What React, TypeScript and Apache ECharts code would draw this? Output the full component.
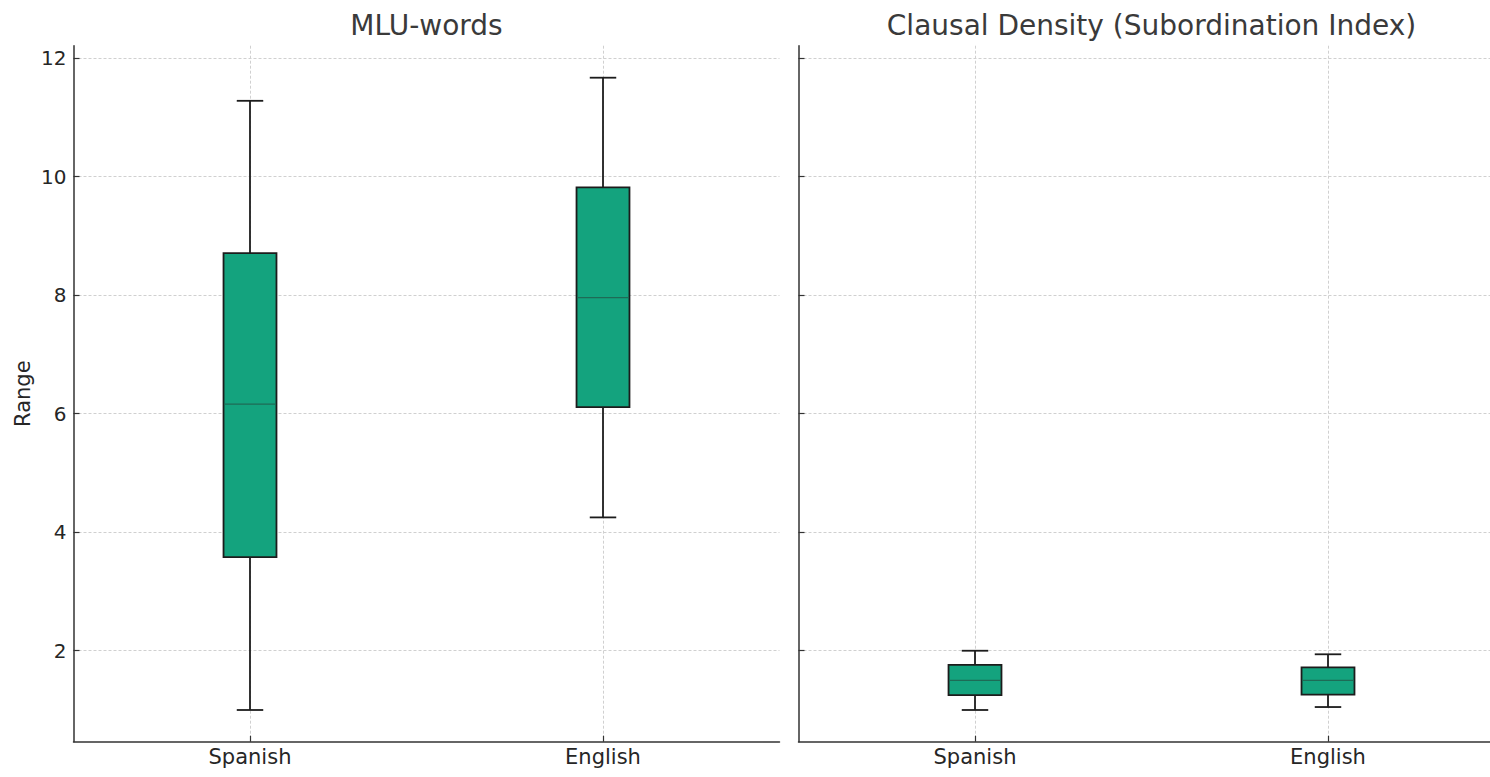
import { useEffect, useRef } from "react";
import * as echarts from "echarts";

// Groups shown on each panel's x axis (positions 1 and 2)
const groups = ["Spanish", "English"];
const groupPositions = [1, 2];

// Box statistics per group: [min, q1, median, q3, max]
const mluStats = [
  [1.0, 3.58, 6.16, 8.71, 11.28],
  [4.25, 6.11, 7.96, 9.82, 11.67],
];
const clausalStats = [
  [1.0, 1.25, 1.5, 1.76, 2.0],
  [1.05, 1.26, 1.5, 1.72, 1.94],
];

const yTicks = [2, 4, 6, 8, 10, 12];
const panelTitles = ["MLU-words", "Clausal Density (Subordination Index)"];
const yAxisTitle = "Range";

const FONT = "DejaVu Sans";
const BOX_FILL = "#14a37e";
const EDGE = "#1c1c1c";
const MEDIAN = "#1e6b56";
const BOX_WIDTH = 0.15;
const CAP_WIDTH = 0.075;

const renderBox = (_params: any, api: any) => {
  const x = api.value(0);
  const lo = api.value(1);
  const q1 = api.value(2);
  const med = api.value(3);
  const q3 = api.value(4);
  const hi = api.value(5);
  const halfBox = api.size([BOX_WIDTH, 0])[0] / 2;
  const halfCap = api.size([CAP_WIDTH, 0])[0] / 2;
  const [cx, yLo] = api.coord([x, lo]);
  const yQ1 = api.coord([x, q1])[1];
  const yMed = api.coord([x, med])[1];
  const yQ3 = api.coord([x, q3])[1];
  const yHi = api.coord([x, hi])[1];
  const stroke = { stroke: EDGE, lineWidth: 1.8 };
  return {
    type: "group",
    children: [
      { type: "line", shape: { x1: cx, y1: yLo, x2: cx, y2: yQ1 }, style: stroke },
      { type: "line", shape: { x1: cx, y1: yQ3, x2: cx, y2: yHi }, style: stroke },
      { type: "line", shape: { x1: cx - halfCap, y1: yLo, x2: cx + halfCap, y2: yLo }, style: stroke },
      { type: "line", shape: { x1: cx - halfCap, y1: yHi, x2: cx + halfCap, y2: yHi }, style: stroke },
      {
        type: "rect",
        shape: { x: cx - halfBox, y: yQ3, width: halfBox * 2, height: yQ1 - yQ3 },
        style: { fill: BOX_FILL, stroke: EDGE, lineWidth: 1.8 },
      },
      {
        type: "line",
        shape: { x1: cx - halfBox + 1, y1: yMed, x2: cx + halfBox - 1, y2: yMed },
        style: { stroke: MEDIAN, lineWidth: 1.3 },
      },
    ],
  };
};

const toSeriesData = (stats: number[][]) =>
  stats.map((s, i) => [groupPositions[i], ...s]);

export default function App() {
  const ref = useRef<HTMLDivElement>(null);

  useEffect(() => {
    document.body.style.margin = "0";
    if (!ref.current) return;
    const chart = echarts.init(ref.current, null, { renderer: "svg" });

    // The right panel runs slightly past the visible frame
    const grids = [
      { left: 73.5, top: 45.7, width: 706, height: 696 },
      { left: 798.5, top: 45.7, width: 706, height: 696 },
    ];
    const centers = grids.map((g) => g.left + g.width / 2);

    const axisLineStyle = { color: "#333333", width: 1.5 };

    chart.setOption({
      animation: false,
      backgroundColor: "#ffffff",
      textStyle: { fontFamily: FONT },
      grid: grids,
      graphic: panelTitles.map((t, i) => ({
        type: "text",
        x: centers[i],
        y: 25,
        style: {
          text: t,
          fontSize: 28,
          fontFamily: FONT,
          fill: "#3a3a3a",
          align: "center",
          verticalAlign: "middle",
        },
      })),
      xAxis: grids.map((_g, i) => ({
        type: "value",
        gridIndex: i,
        min: 0.5,
        max: 2.5,
        axisLine: { show: true, onZero: false, lineStyle: axisLineStyle },
        axisTick: {
          show: true,
          inside: true,
          length: 6,
          customValues: groupPositions,
          lineStyle: { color: "#333333", width: 1.2 },
        },
        axisLabel: {
          customValues: groupPositions,
          formatter: (v: number) => groups[Math.round(v) - 1] ?? "",
          fontSize: 21,
          fontFamily: FONT,
          color: "#262626",
          margin: 5,
        },
        splitLine: {
          show: true,
          lineStyle: { color: "#d0d0d0", type: [3, 2], width: 1 },
        },
      })),
      yAxis: grids.map((_g, i) => ({
        type: "value",
        gridIndex: i,
        min: 0.465,
        max: 12.21,
        name: i === 0 ? yAxisTitle : "",
        nameLocation: "middle",
        nameGap: 40,
        nameTextStyle: { fontSize: 21, fontFamily: FONT, color: "#262626" },
        axisLine: { show: true, lineStyle: axisLineStyle },
        axisTick: {
          show: true,
          inside: true,
          length: 6,
          customValues: yTicks,
          lineStyle: { color: "#333333", width: 1.2 },
        },
        axisLabel: {
          show: i === 0,
          customValues: yTicks,
          fontSize: 20,
          fontFamily: FONT,
          color: "#262626",
          margin: 7,
        },
        splitLine: {
          show: true,
          lineStyle: { color: "#d0d0d0", type: [3, 2], width: 1 },
        },
      })),
      series: [mluStats, clausalStats].map((stats, i) => ({
        type: "custom",
        xAxisIndex: i,
        yAxisIndex: i,
        renderItem: renderBox,
        encode: { x: 0, y: [1, 2, 3, 4, 5] },
        data: toSeriesData(stats),
        z: 5,
      })),
    });

    return () => chart.dispose();
  }, []);

  return (
    <div style={{ width: 1490, height: 777, overflow: "hidden" }}>
      <div ref={ref} style={{ width: 1510, height: 777 }} />
    </div>
  );
}
